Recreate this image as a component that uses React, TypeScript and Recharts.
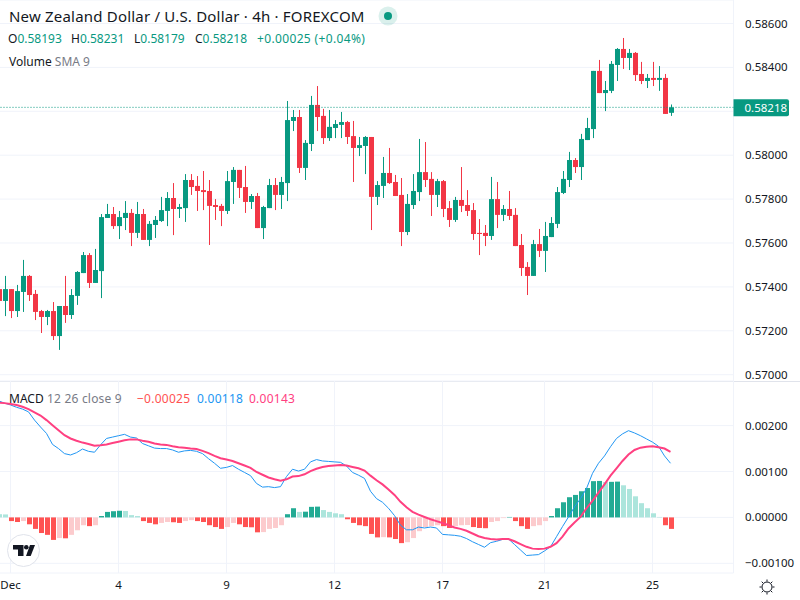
import React from "react";
import { ComposedChart, Bar, Line, XAxis, YAxis, CartesianGrid, ReferenceLine } from "recharts";

const opens = [
  0.5739,0.57336,0.5739,0.5729,0.57377,0.5745,0.57368,0.5729,0.57263,0.5729,
  0.57176,0.57313,0.57272,0.57359,0.57463,0.57545,0.57418,0.57472,0.57714,0.57732,
  0.57677,0.57714,0.57737,0.57646,0.57732,0.57614,0.57682,0.577,0.57746,0.57805,
  0.57755,0.57759,0.57887,0.5786,0.57841,0.57837,0.57773,0.57769,0.57746,0.57878,
  0.57933,0.57855,0.57787,0.57814,0.57668,0.57759,0.57864,0.57819,0.57873,0.58156,
  0.58174,0.57942,0.58051,0.58229,0.58179,0.58078,0.58124,0.58138,0.58151,0.58087,
  0.58033,0.58042,0.58083,0.5781,0.5786,0.57919,0.57878,0.57819,0.5765,0.57773,
  0.57832,0.57923,0.57892,0.57819,0.57882,0.57759,0.57705,0.57796,0.57773,0.5775,
  0.57646,0.57646,0.57632,0.578,0.57728,0.57755,0.57728,0.57591,0.57491,0.5745,
  0.57595,0.57564,0.57627,0.57687,0.57828,0.57887,0.57978,0.57946,0.58069,0.58119,
  0.58384,0.58283,0.58293,0.58411,0.58484,0.58443,0.58466,0.5837,0.58338,0.58352,
  0.58343,0.58352,0.58193,
];
const highs = [
  0.57409,0.5745,0.5739,0.57409,0.57523,0.57454,0.57386,0.57295,0.57295,0.57331,
  0.57313,0.5745,0.5739,0.57472,0.57559,0.57554,0.57573,0.57732,0.57778,0.57764,
  0.57746,0.57791,0.57755,0.57787,0.57755,0.577,0.57723,0.5781,0.57832,0.57873,
  0.57778,0.57914,0.57914,0.57905,0.57928,0.57887,0.578,0.57778,0.57928,0.57946,
  0.57933,0.57951,0.57823,0.57828,0.57769,0.57892,0.57896,0.57901,0.58247,0.58206,
  0.58206,0.58069,0.5827,0.58315,0.58211,0.58206,0.5816,0.58197,0.58156,0.58156,
  0.58083,0.58087,0.58083,0.57882,0.57992,0.58033,0.5791,0.57896,0.57823,0.57914,
  0.58074,0.5806,0.57923,0.57892,0.57887,0.57791,0.5781,0.57946,0.57841,0.57782,
  0.57709,0.57682,0.57901,0.57878,0.57773,0.57837,0.57759,0.57641,0.57513,0.57614,
  0.57664,0.57696,0.57718,0.57855,0.57928,0.58015,0.57987,0.58097,0.5817,0.58384,
  0.58434,0.58338,0.58429,0.58488,0.58534,0.58484,0.5847,0.58425,0.5837,0.58425,
  0.58406,0.5837,0.58231,
];
const lows = [
  0.57325,0.57267,0.57258,0.57263,0.57286,0.57336,0.57249,0.5719,0.57226,0.57158,
  0.57113,0.57236,0.57254,0.57318,0.57463,0.57395,0.57418,0.57349,0.57714,0.57664,
  0.57618,0.57659,0.57586,0.57623,0.57614,0.57586,0.57623,0.57696,0.57677,0.57636,
  0.57714,0.57696,0.57819,0.57746,0.5775,0.57591,0.57705,0.57677,0.57732,0.57778,
  0.57805,0.57737,0.57755,0.57668,0.57618,0.57759,0.5775,0.57755,0.57791,0.5811,
  0.57919,0.57887,0.58019,0.5811,0.58051,0.58065,0.58078,0.58078,0.58051,0.57878,
  0.57996,0.57914,0.57659,0.57773,0.57805,0.57869,0.57814,0.57586,0.57636,0.57755,
  0.57791,0.57855,0.57723,0.57764,0.57718,0.57673,0.57696,0.57741,0.57723,0.57614,
  0.57545,0.57586,0.57614,0.57668,0.577,0.57705,0.57586,0.5745,0.57363,0.5745,
  0.57536,0.57468,0.57627,0.57668,0.57823,0.57855,0.57919,0.57887,0.58069,0.58078,
  0.58283,0.58201,0.58283,0.58338,0.58393,0.58388,0.58338,0.58324,0.58306,0.58315,
  0.58293,0.58188,0.58179,
];
const closes = [
  0.57336,0.5739,0.5729,0.57381,0.5745,0.57363,0.57286,0.57263,0.5729,0.57176,
  0.57313,0.57272,0.57363,0.57468,0.57545,0.57418,0.57477,0.57718,0.57732,0.57677,
  0.57718,0.57737,0.57646,0.57732,0.57614,0.57687,0.57705,0.5775,0.57805,0.57755,
  0.57764,0.57887,0.57855,0.57837,0.57832,0.57769,0.57764,0.57746,0.57882,0.57933,
  0.57851,0.57787,0.57814,0.57668,0.57764,0.57864,0.57819,0.57878,0.5816,0.58174,
  0.57942,0.58056,0.58229,0.58174,0.58078,0.58129,0.58142,0.58151,0.58083,0.58033,
  0.58046,0.58083,0.5781,0.57864,0.57919,0.57873,0.57814,0.5765,0.57778,0.57837,
  0.57923,0.57887,0.57819,0.57882,0.57755,0.57705,0.57796,0.57769,0.57746,0.57641,
  0.57641,0.57632,0.578,0.57728,0.57755,0.57723,0.57586,0.57486,0.5745,0.57595,
  0.57564,0.57632,0.57691,0.57832,0.57892,0.57978,0.57946,0.58074,0.58124,0.58384,
  0.58283,0.58297,0.58416,0.58484,0.58443,0.58466,0.58365,0.58338,0.58352,0.58343,
  0.58352,0.58188,0.58218,
];
const histogram = [
  0.00007,0.000065,-0.00008,-0.0001,-0.00008,-0.00015,-0.00025,-0.00034,-0.00038,-0.00049,
  -0.00045,-0.000455,-0.00038,-0.00028,-0.00017,-0.00019,-0.00017,0.00003,0.00012,0.000135,
  0.000145,0.00014,0.00005,0.00003,-0.00008,-0.00012,-0.00015,-0.00012,-0.0001,-0.000105,
  -0.00012,-0.00008,-0.00006,-0.00008,-0.0001,-0.00017,-0.00021,-0.00025,-0.00021,-0.00012,
  -0.00015,-0.00021,-0.000215,-0.000325,-0.00032,-0.00025,-0.00023,-0.00017,0.00007,0.0002,
  0.00012,0.000125,0.00023,0.000235,0.00016,0.00012,0.00009,0.00007,-0.00004,-0.00012,
  -0.00017,-0.00019,-0.00036,-0.000435,-0.00043,-0.000435,-0.00047,-0.00056,-0.00054,-0.00045,
  -0.0003,-0.00021,-0.00019,-0.00017,-0.00019,-0.00023,-0.00019,-0.00017,-0.000165,-0.00021,
  -0.00023,-0.000235,-0.0001,-0.00008,-0.000015,0.00001,-0.00008,-0.00019,-0.00025,-0.00019,
  -0.00017,-0.00008,0.00003,0.0002,0.00033,0.00044,0.00049,0.00057,0.00064,0.00079,
  0.000795,0.00077,0.000775,0.00078,0.0007,0.00062,0.00046,0.00031,0.0002,0.00009,
  0.00001,-0.00017,-0.00025,
];
const macdLine = [
  0.00254,0.00249,0.00245,0.0024,0.00236,0.0023,0.00212,0.00197,0.00183,0.00159,
  0.0015,0.00139,0.00136,0.00141,0.00149,0.00144,0.00142,0.00158,0.00172,0.00175,
  0.00178,0.00181,0.00175,0.00173,0.00161,0.00156,0.00151,0.0015,0.0015,0.00147,
  0.00142,0.00145,0.00146,0.00144,0.00139,0.00128,0.00118,0.00107,0.00109,0.00113,
  0.00105,0.00098,0.00091,0.00074,0.00066,0.00067,0.00065,0.00067,0.00089,0.00105,
  0.00101,0.00105,0.00121,0.00126,0.00123,0.00122,0.00121,0.0012,0.00112,0.00098,
  0.00092,0.00085,0.00057,0.00041,0.00033,0.0002,0.00004,-0.00017,-0.00027,-0.00027,
  -0.00021,-0.00023,-0.00021,-0.00023,-0.00037,-0.00038,-0.00039,-0.00041,-0.00046,-0.00053,
  -0.00059,-0.00065,-0.00055,-0.00052,-0.00048,-0.00047,-0.00059,-0.00071,-0.00083,-0.00082,
  -0.00081,-0.00073,-0.00064,-0.00042,-0.0002,0.00001,0.00023,0.00041,0.00063,0.00096,
  0.00118,0.00134,0.00154,0.00172,0.00182,0.00189,0.00184,0.00178,0.00171,0.00164,
  0.00155,0.00134,0.00118,
];
const signalLine = [
  0.0025,0.00249,0.00247,0.00245,0.00241,0.00236,0.00229,0.00222,0.00212,0.00201,
  0.0019,0.00179,0.00172,0.00167,0.00163,0.0016,0.00156,0.00157,0.00159,0.00162,
  0.00165,0.00168,0.0017,0.0017,0.00167,0.00165,0.00161,0.00159,0.00158,0.00155,
  0.00153,0.00152,0.0015,0.00149,0.00145,0.0014,0.00134,0.00129,0.00126,0.00123,
  0.00118,0.00113,0.00108,0.00099,0.00093,0.00087,0.00083,0.0008,0.00083,0.00089,
  0.0009,0.00094,0.00101,0.00106,0.0011,0.00112,0.00113,0.00114,0.00113,0.0011,
  0.00107,0.00102,0.00091,0.00081,0.00072,0.00061,0.00049,0.00034,0.00022,0.00012,
  0.00006,0.00001,-0.00004,-0.00008,-0.00012,-0.00017,-0.00022,-0.00025,-0.00029,-0.00035,
  -0.00041,-0.00045,-0.00047,-0.00048,-0.00047,-0.00047,-0.00052,-0.00058,-0.00064,-0.00068,
  -0.00069,-0.00068,-0.00064,-0.00056,-0.00042,-0.00024,-0.00011,0.00001,0.0002,0.00036,
  0.00054,0.00072,0.00091,0.00107,0.00123,0.00137,0.00147,0.00152,0.00154,0.00155,
  0.00153,0.0015,0.00143,
];

const priceTicks = [0.586, 0.584, 0.582, 0.58, 0.578, 0.576, 0.574, 0.572, 0.57];
const macdTicks = [0.002, 0.001, 0, -0.001];
const timeTickBars = [2, 20, 38, 56, 74, 91, 109];
const timeTickLabels = ["Dec", "4", "9", "12", "17", "21", "25"];
const lastClose = 0.58218;
const hiddenPriceLabel = 0.582;
const FUTURE_BARS = 10;

const rows = Array.from({ length: opens.length + FUTURE_BARS }, (_, i) => ({
  i,
  open: opens[i],
  high: highs[i],
  low: lows[i],
  close: closes[i],
  range: i < opens.length ? [lows[i], highs[i]] : null,
  hist: histogram[i],
  macd: macdLine[i],
  signal: signalLine[i],
}));

const FONT = "'Noto Sans', sans-serif";
const UP = "#089981";
const DOWN = "#F23645";
const GRID = "#F0F3FA";
const TEXT = "#131722";

const histColor = (i: number) => {
  const h = histogram[i];
  const prev = histogram[i - 1];
  if (h >= 0) return h > prev ? "#22AB94" : "#ACE5DC";
  return h < prev ? "#FF5252" : "#FCCBCD";
};

// Recharts floors the bar offset inside a band; half a pixel puts the bar in the band's centre.
const CENTER_NUDGE = 0.5;

const Candle = (p: any) => {
  const d = p.payload;
  if (!d || d.open == null) return null;
  const h = Math.abs(p.height);
  const top = Math.min(p.y, p.y + p.height);
  const perUnit = h / (d.high - d.low);
  const bodyTop = top + (d.high - Math.max(d.open, d.close)) * perUnit;
  const bodyH = Math.max(1, Math.abs(d.close - d.open) * perUnit);
  const fill = d.close >= d.open ? UP : DOWN;
  const left = p.x + CENTER_NUDGE;
  const cx = left + p.width / 2;
  return (
    <g>
      <rect x={cx - 0.5} y={top} width={1} height={h} fill={fill} />
      <rect x={left} y={bodyTop} width={p.width} height={bodyH} fill={fill} />
    </g>
  );
};

const HistBar = (p: any) => {
  const d = p.payload;
  if (!d || d.hist == null) return null;
  return (
    <rect
      x={p.x + CENTER_NUDGE}
      y={Math.min(p.y, p.y + p.height)}
      width={p.width}
      height={Math.abs(p.height)}
      fill={histColor(d.i)}
    />
  );
};

const PriceTag = (p: any) => {
  const v = p.viewBox;
  const x = v.x + v.width;
  return (
    <g>
      <path
        d={`M${x} ${v.y - 8}h53.5a2 2 0 0 1 2 2v13a2 2 0 0 1 -2 2h-53.5z`}
        fill={UP}
      />
      <text x={x + 11} y={v.y + 4.5} fill="#fff" fontSize={11.5} fontFamily={FONT}>
        {lastClose.toFixed(5)}
      </text>
    </g>
  );
};

const fmtAxis = (v: number) => (v < 0 ? "\u2212" : "") + Math.abs(v).toFixed(5);
const fmtPrice = (v: number) => (v === hiddenPriceLabel ? "" : v.toFixed(5));
const fmtTime = (v: number) => timeTickLabels[timeTickBars.indexOf(v)] ?? "";
const axisTick = { fontSize: 11.5, fill: TEXT, fontFamily: FONT };

const abs = (left: number, top: number, extra: any = {}): any => ({
  position: "absolute",
  left,
  top,
  whiteSpace: "nowrap",
  fontFamily: FONT,
  lineHeight: "16px",
  ...extra,
});

export default function App() {
  return (
    <div style={{ position: "absolute", left: 0, top: 0, width: 800, height: 600, overflow: "hidden", background: "#fff" }}>
      <div style={{ position: "absolute", left: -5, top: 0 }}>
        <ComposedChart width={805} height={381} data={rows} margin={{ top: 0, right: 0, bottom: 0, left: 0.5 }} barCategoryGap={0}>
          <CartesianGrid stroke={GRID} strokeWidth={1} />
          <XAxis dataKey="i" type="category" ticks={timeTickBars} interval={0} height={0} tick={false} axisLine={false} tickLine={false} />
          <YAxis
            orientation="right"
            width={66.5}
            domain={[0.569713, 0.58707]}
            ticks={priceTicks}
            interval={0}
            tickFormatter={fmtPrice}
            tick={axisTick}
            axisLine={false}
            tickLine={false}
            tickSize={0}
            tickMargin={11.5}
            allowDataOverflow
          />
          <ReferenceLine y={lastClose} stroke={UP} strokeDasharray="1 2" strokeWidth={1} label={<PriceTag />} />
          <Bar dataKey="range" barSize={5} isAnimationActive={false} shape={<Candle />} />
        </ComposedChart>
      </div>
      <div style={{ position: "absolute", left: 0, top: 381, width: 800, height: 1, background: "#E0E3EB" }} />
      <div style={{ position: "absolute", left: -5, top: 381 }}>
        <ComposedChart width={805} height={219} data={rows} margin={{ top: 0, right: 0, bottom: 0, left: 0.5 }} barCategoryGap={0}>
          <CartesianGrid stroke={GRID} strokeWidth={1} />
          <XAxis
            dataKey="i"
            type="category"
            ticks={timeTickBars}
            interval={0}
            height={27}
            tickFormatter={fmtTime}
            tick={axisTick}
            axisLine={false}
            tickLine={false}
            tickSize={0}
            tickMargin={8}
          />
          <YAxis
            orientation="right"
            width={66.5}
            domain={[-0.001211, 0.002972]}
            ticks={macdTicks}
            interval={0}
            tickFormatter={fmtAxis}
            tick={axisTick}
            axisLine={false}
            tickLine={false}
            tickSize={0}
            tickMargin={11.5}
            allowDataOverflow
          />
          <Bar dataKey="hist" barSize={5} isAnimationActive={false} shape={<HistBar />} />
          <Line dataKey="macd" stroke="#2196F3" strokeWidth={1} dot={false} activeDot={false} isAnimationActive={false} />
          <Line dataKey="signal" stroke="#FF4081" strokeWidth={2} dot={false} activeDot={false} isAnimationActive={false} />
        </ComposedChart>
      </div>

      <div style={abs(9, 8, { fontSize: 15, letterSpacing: 0.2, color: TEXT })}>New Zealand Dollar / U.S. Dollar · 4h · FOREXCOM</div>
      <svg style={{ position: "absolute", left: 378, top: 6 }} width={20} height={20}>
        <circle cx={10} cy={10} r={9.5} fill="#089981" fillOpacity={0.15} />
        <circle cx={10} cy={10} r={4} fill="#089981" />
      </svg>
      <div style={abs(8, 31, { fontSize: 12, color: UP })}>
        <span style={{ color: TEXT }}>O</span>0.58193
      </div>
      <div style={abs(71, 31, { fontSize: 12, color: UP })}>
        <span style={{ color: TEXT }}>H</span>0.58231
      </div>
      <div style={abs(134, 31, { fontSize: 12, color: UP })}>
        <span style={{ color: TEXT }}>L</span>0.58179
      </div>
      <div style={abs(195, 31, { fontSize: 12, color: UP })}>
        <span style={{ color: TEXT }}>C</span>0.58218
      </div>
      <div style={abs(257, 31, { fontSize: 12, letterSpacing: 0.35, color: UP })}>+0.00025 (+0.04%)</div>
      <div style={abs(9, 54, { fontSize: 12, color: TEXT })}>
        Volume <span style={{ color: "#787B86" }}>SMA 9</span>
      </div>
      <div style={abs(9, 391, { fontSize: 12, color: TEXT })}>MACD</div>
      <div style={abs(47, 391, { fontSize: 12, letterSpacing: 0.2, color: "#787B86" })}>12 26 close 9</div>
      <div style={abs(137, 391, { fontSize: 12, letterSpacing: 0.25, color: "#FF5252" })}>{"\u22120.00025"}</div>
      <div style={abs(197, 391, { fontSize: 12, letterSpacing: 0.25, color: "#2196F3" })}>0.00118</div>
      <div style={abs(249, 391, { fontSize: 12, letterSpacing: 0.25, color: "#FF4081" })}>0.00143</div>

      <svg style={{ position: "absolute", left: 0, top: 525 }} width={50} height={50}>
        <circle cx={23.5} cy={25.5} r={16} fill="#fff" stroke="#E0E3EB" strokeWidth={1} />
        <path d="M13 20h10.5v11H18v-6.5h-5z" fill={TEXT} />
        <circle cx={26.3} cy={22.3} r={2.3} fill={TEXT} />
        <path d="M30 20h5l-4.3 11H26z" fill={TEXT} />
      </svg>
      <svg style={{ position: "absolute", left: 757, top: 577 }} width={20} height={20} fill="none" stroke={TEXT} strokeWidth={1}>
        <circle cx={10} cy={10} r={5} />
        <path d="M10 2.5v2M10 15.5v2M2.5 10h2M15.5 10h2M4.7 4.7l1.4 1.4M13.9 13.9l1.4 1.4M4.7 15.3l1.4-1.4M13.9 6.1l1.4-1.4" />
      </svg>
    </div>
  );
}
